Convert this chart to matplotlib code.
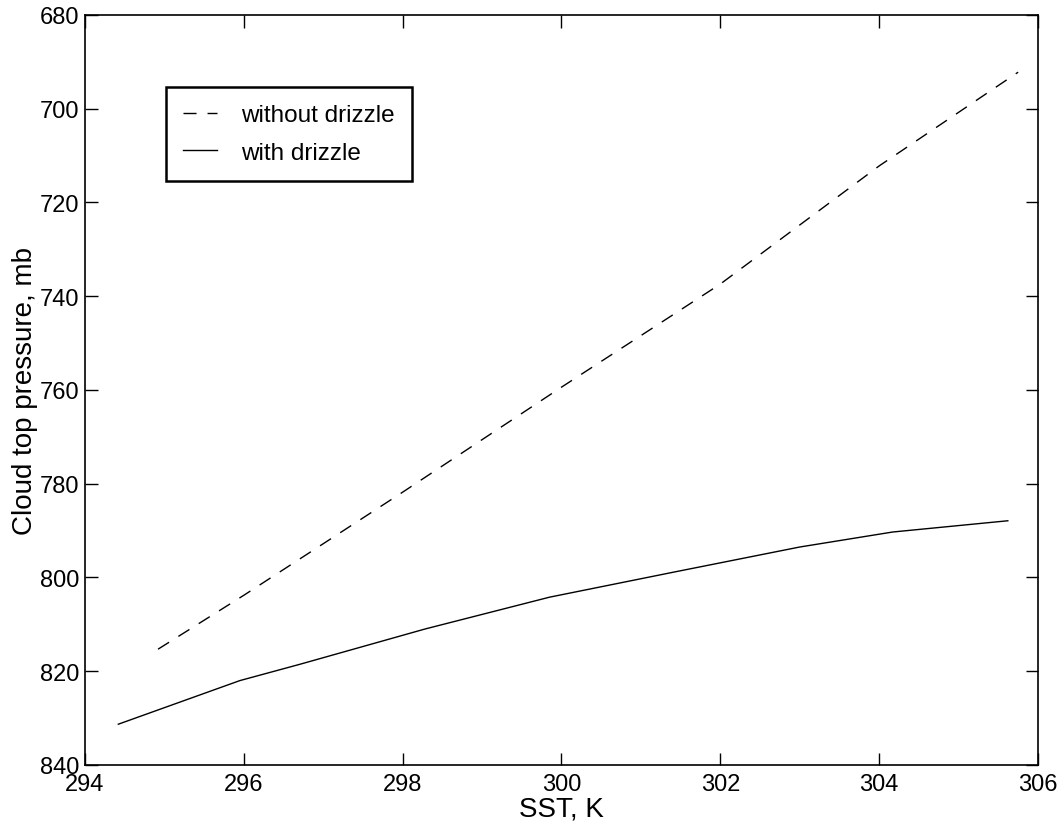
import numpy as np
import matplotlib
matplotlib.use("Agg")
import matplotlib.pyplot as plt

# --- dados ---
SST_NO_DRIZZLE = [294.92, 296.0, 298.0, 300.0, 302.0, 304.0, 305.75]
P_NO_DRIZZLE = [815.3, 803.8, 781.8, 759.4, 737.4, 712.2, 692.2]

SST_DRIZZLE = [294.42, 295.95, 296.71, 298.28, 299.85, 301.43, 303.0, 304.17, 305.62]
P_DRIZZLE = [831.3, 822.0, 818.5, 811.0, 804.2, 798.8, 793.5, 790.3, 787.9]

X_TICKS = [294, 296, 298, 300, 302, 304, 306]
Y_TICKS = [680, 700, 720, 740, 760, 780, 800, 820, 840]

plt.rcParams['font.family'] = ['Liberation Sans', 'DejaVu Sans']

fig = plt.figure(figsize=(10.58, 8.28), dpi=100)
ax = fig.add_axes([0.0803, 0.0749, 0.9008, 0.9058])

ax.plot(SST_NO_DRIZZLE, P_NO_DRIZZLE, color='black', lw=1.0,
        dashes=(9.4, 7.9), label='without drizzle')
ax.plot(SST_DRIZZLE, P_DRIZZLE, color='black', lw=1.0, label='with drizzle')

ax.set_xlim(294, 306)
ax.set_ylim(840, 680)
ax.set_xticks(X_TICKS)
ax.set_yticks(Y_TICKS)
ax.tick_params(direction='in', length=9, width=1.0, labelsize=17,
               top=True, right=True)
ax.tick_params(axis='x', pad=6)
ax.tick_params(axis='y', pad=4)
for s in ax.spines.values():
    s.set_linewidth(1.2)

ax.set_xlabel('SST, K', fontsize=20, labelpad=0)
ax.set_ylabel('Cloud top pressure, mb', fontsize=20, labelpad=1)

leg = ax.legend(loc='upper left', bbox_to_anchor=(0.085, 0.904), borderaxespad=0,
                fontsize=17.5, fancybox=False, framealpha=1, edgecolor='black',
                handlelength=1.4, handletextpad=0.95, labelspacing=0.62,
                borderpad=0.72)
leg.get_frame().set_linewidth(1.8)

fig.savefig('out.png', dpi=100)
